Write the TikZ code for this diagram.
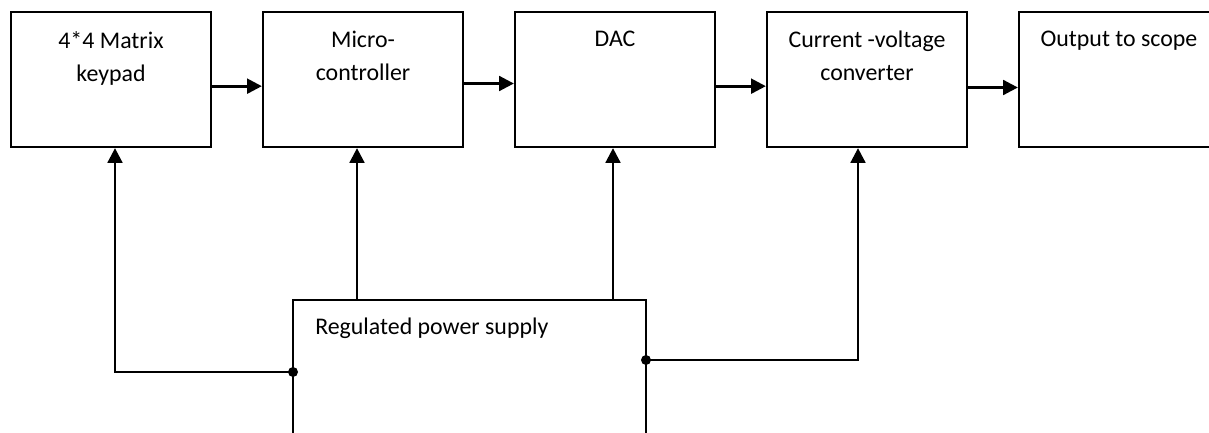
\documentclass[tikz,border=0pt]{standalone}
\usepackage{fontspec}
\setmainfont{Carlito}
\usepackage{tikz}
\usetikzlibrary{arrows.meta}
\usetikzlibrary{positioning}

\tikzset{
  blk/.style={draw, line width=1.7pt, minimum width=150pt, minimum height=101.25pt, inner sep=0pt},
  txt/.style={inner sep=0pt, align=center, font=\fontsize{17.9}{24.75}\selectfont},
  lbl/.style={txt, anchor=north, yshift=-15pt},
  flow/.style={line width=2pt, -{Triangle[length=11pt,width=11pt]}},
  wire/.style={line width=2pt}
}

\begin{document}
\begin{tikzpicture}[x=0.75pt,y=-0.75pt]
\useasboundingbox (0,0) rectangle (1209,432);
\clip (0,0) rectangle (1209,432);
\node[blk, label={[lbl]north:{4*4 Matrix\\keypad}}] (key) at (111,79.5) {};
\node[blk, label={[lbl]north:{Micro-\\controller}}] (mcu) at (363,79.5) {};
\node[blk, label={[lbl]north:{DAC}}] (dac) at (615,79.5) {};
\node[blk, label={[lbl]north:{Current -voltage\\converter}}] (ivc) at (867,79.5) {};
\node[blk, label={[lbl]north:{Output to scope}}] (out) at (1119,79.5) {};
\node[blk, minimum width=264.75pt, minimum height=150pt] (psu) at (469.5,400) {};
\node[txt, anchor=north west] (psutext) at (315,318) {Regulated power supply};
\coordinate (pl) at (293,372);
\coordinate (pr) at (646,360);
\draw[flow] ([yshift=-5pt]key.east) -- ([yshift=-5pt]mcu.west);
\draw[flow] ([yshift=-3pt]mcu.east) -- ([yshift=-3pt]dac.west);
\draw[flow] ([yshift=-5pt]dac.east) -- ([yshift=-5pt]ivc.west);
\draw[flow] ([yshift=-6pt]ivc.east) -- ([yshift=-6pt]out.west);
\draw[flow] ([xshift=-4.5pt]mcu.south |- psu.north) -- ([xshift=-4.5pt]mcu.south);
\draw[flow] ([xshift=-1.5pt]dac.south |- psu.north) -- ([xshift=-1.5pt]dac.south);
\draw[flow] (pl) -| ([xshift=3pt]key.south);
\draw[flow] (pr) -| ([xshift=-6.75pt]ivc.south);
\fill (pl) circle[radius=3.75pt];
\fill (pr) circle[radius=3.75pt];
\end{tikzpicture}
\end{document}
